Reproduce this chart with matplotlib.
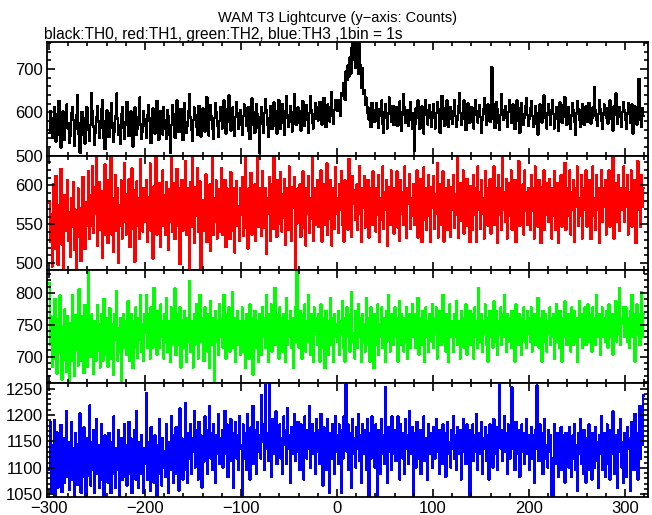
import numpy as np
import matplotlib.pyplot as plt
from matplotlib.ticker import MultipleLocator

plt.rcParams['font.family'] = ['Liberation Sans', 'DejaVu Sans']

T_START = -300  # first bin edge, 1 bin = 1 s

# counts per 1 s bin (-300 .. 319)
TH0 = [
    552, 603, 588, 541, 566, 612, 597, 533, 548, 579, 626, 571, 519, 584, 602, 559, 537, 592, 618, 563,
    574, 529, 547, 598, 611, 583, 522, 561, 593, 639, 575, 548, 507, 569, 601, 587, 546, 528, 583, 612,
    596, 558, 534, 571, 645, 603, 567, 526, 552, 588, 614, 579, 541, 563, 607, 628, 572, 539, 515, 581,
    604, 587, 543, 562, 598, 621, 574, 532, 556, 591, 643, 586, 549, 571, 528, 596, 612, 565, 538, 577,
    591, 624, 569, 545, 583, 602, 557, 521, 578, 611, 596, 548, 563, 589, 634, 572, 538, 556, 603, 585,
    568, 542, 593, 617, 581, 555, 529, 587, 609, 574, 551, 598, 626, 564, 537, 582, 603, 577, 549, 612,
    583, 561, 539, 604, 592, 548, 506, 571, 617, 589, 563, 541, 598, 627, 582, 554, 575, 608, 569, 536,
    597, 621, 578, 552, 569, 603, 641, 588, 559, 534, 582, 611, 595, 567, 548, 589, 615, 573, 544, 596,
    609, 581, 556, 598, 635, 574, 547, 583, 616, 591, 562, 539, 587, 622, 601, 568, 543, 579, 612, 588,
    563, 598, 627, 584, 551, 576, 608, 639, 582, 558, 593, 611, 574, 546, 589, 624, 597, 563, 581, 604,
    572, 548, 591, 618, 603, 569, 585, 612, 557, 538, 594, 632, 601, 571, 553, 587, 619, 596, 564, 507,
    589, 612, 574, 553, 598, 631, 606, 572, 544, 587, 615, 592, 561, 583, 623, 599, 568, 551, 604, 628,
    583, 562, 597, 619, 576, 549, 602, 637, 588, 566, 593, 614, 578, 556, 601, 642, 593, 571, 586, 611,
    597, 574, 558, 603, 626, 589, 568, 594, 617, 583, 552, 599, 638, 604, 577, 563, 596, 621, 585, 612,
    581, 603, 624, 589, 572, 607, 633, 598, 566, 591, 618, 604, 579, 613, 646, 592, 574, 605, 627, 611,
    603, 628, 617, 592, 645, 637, 668, 651, 629, 694, 674, 708, 682, 726, 689, 748, 767, 721, 773, 702,
    756, 731, 688, 765, 709, 657, 701, 642, 651, 618, 634, 599, 611, 583, 607, 566, 622, 589, 604, 578,
    597, 621, 583, 564, 608, 593, 627, 574, 552, 601, 619, 588, 563, 597, 634, 606, 578, 593, 615, 571,
    588, 612, 596, 569, 583, 625, 601, 557, 594, 642, 611, 576, 589, 604, 568, 596, 623, 583, 561, 598,
    511, 573, 609, 587, 627, 596, 562, 581, 613, 598, 551, 594, 629, 606, 572, 588, 617, 593, 566, 601,
    619, 588, 563, 598, 624, 607, 579, 553, 592, 638, 611, 584, 569, 601, 627, 594, 567, 585, 612, 596,
    574, 603, 628, 591, 566, 582, 614, 645, 598, 571, 589, 608, 627, 583, 559, 597, 621, 602, 576, 591,
    612, 586, 563, 594, 628, 603, 577, 598, 616, 589, 552, 583, 607, 632, 596, 571, 589, 618, 604, 578,
    592, 704, 619, 583, 564, 597, 623, 608, 575, 559, 594, 641, 606, 582, 597, 614, 588, 566, 601, 629,
    603, 576, 589, 618, 594, 561, 586, 627, 611, 579, 553, 598, 622, 596, 571, 587, 614, 632, 594, 568,
    584, 609, 626, 592, 567, 583, 614, 598, 571, 549, 596, 618, 603, 577, 592, 639, 611, 586, 563, 598,
    619, 594, 572, 606, 628, 597, 563, 588, 612, 584, 557, 596, 623, 601, 576, 593, 617, 635, 588, 571,
    596, 612, 587, 562, 593, 621, 604, 578, 549, 597, 626, 608, 583, 567, 604, 619, 592, 571, 588, 613,
    578, 597, 622, 603, 574, 586, 611, 592, 658, 604, 583, 569, 596, 627, 608, 581, 562, 597, 618, 594,
    587, 609, 574, 596, 627, 613, 584, 558, 592, 616, 643, 598, 573, 589, 612, 594, 567, 601, 624, 605,
    583, 561, 597, 621, 604, 576, 592, 618, 551, 588, 613, 597, 572, 594, 677, 603, 581, 566, 609, 592,
]

TH1 = [
    577, 528, 563, 496, 601, 547, 519, 612, 556, 498, 574, 538, 621, 524, 563, 489, 588, 542, 551, 607,
    529, 566, 508, 583, 547, 604, 517, 569, 492, 553, 596, 534, 571, 503, 558, 611, 539, 518, 579, 548,
    562, 618, 531, 587, 548, 625, 539, 598, 563, 645, 522, 577, 604, 543, 568, 507, 593, 551, 627, 536,
    579, 526, 607, 554, 646, 537, 583, 515, 569, 613, 542, 597, 501, 574, 548, 606, 532, 578, 629, 553,
    537, 589, 561, 608, 521, 573, 622, 544, 594, 502, 567, 605, 548, 583, 531, 634, 562, 541, 596, 572,
    553, 607, 527, 585, 559, 628, 542, 578, 506, 599, 568, 647, 537, 584, 552, 603, 521, 574, 619, 548,
    588, 536, 604, 567, 517, 595, 553, 637, 541, 584, 603, 531, 573, 621, 548, 596, 499, 568, 607, 542,
    583, 558, 631, 536, 597, 572, 491, 604, 547, 648, 579, 526, 598, 561, 622, 541, 588, 605, 493, 574,
    581, 542, 567, 614, 527, 579, 548, 601, 516, 568, 636, 537, 584, 553, 606, 532, 573, 595, 541, 622,
    536, 585, 561, 607, 521, 596, 547, 578, 531, 617, 566, 542, 597, 514, 584, 605, 548, 573, 529, 597,
    562, 611, 535, 584, 642, 546, 573, 519, 596, 567, 616, 537, 583, 552, 601, 529, 579, 641, 547, 568,
    596, 535, 618, 571, 546, 597, 512, 584, 563, 611, 529, 577, 602, 544, 639, 566, 583, 534, 607, 551,
    573, 617, 541, 589, 558, 608, 524, 579, 597, 543, 624, 565, 529, 598, 571, 611, 493, 584, 551, 596,
    567, 601, 534, 585, 618, 546, 578, 523, 597, 563, 612, 539, 584, 557, 641, 529, 596, 571, 549, 607,
    547, 591, 563, 619, 528, 584, 602, 549, 572, 628, 536, 589, 557, 607, 523, 578, 597, 544, 623, 563,
    584, 539, 601, 569, 618, 549, 591, 528, 606, 571, 597, 543, 634, 562, 585, 534, 612, 576, 594, 556,
    601, 543, 583, 624, 563, 528, 596, 571, 612, 546, 589, 557, 607, 533, 577, 597, 549, 618, 568, 583,
    541, 597, 562, 613, 527, 584, 556, 624, 544, 591, 569, 607, 522, 578, 598, 549, 619, 563, 585, 538,
    597, 569, 618, 546, 585, 529, 607, 563, 591, 549, 624, 568, 533, 597, 576, 614, 544, 583, 561, 602,
    549, 591, 568, 619, 533, 597, 562, 608, 527, 585, 623, 556, 597, 543, 578, 613, 561, 527, 598, 571,
    612, 544, 589, 563, 629, 533, 584, 602, 549, 572, 618, 528, 597, 562, 589, 543, 607, 574, 534, 598,
    568, 613, 546, 589, 562, 641, 533, 584, 603, 555, 577, 619, 538, 597, 569, 608, 548, 591, 527, 599,
    576, 543, 613, 562, 597, 527, 624, 569, 591, 544, 607, 563, 584, 532, 618, 574, 597, 548, 583, 608,
    538, 591, 569, 624, 549, 597, 574, 526, 613, 562, 597, 543, 643, 568, 591, 553, 608, 532, 584, 603,
    561, 619, 543, 589, 568, 607, 527, 597, 574, 631, 548, 584, 561, 601, 537, 619, 567, 591, 549, 597,
    584, 543, 613, 567, 597, 532, 624, 561, 591, 547, 607, 574, 526, 598, 568, 619, 543, 591, 562, 603,
    553, 608, 574, 532, 597, 561, 618, 543, 584, 603, 526, 591, 568, 613, 547, 597, 572, 629, 543, 584,
    597, 561, 619, 537, 591, 568, 607, 527, 597, 573, 624, 548, 584, 561, 613, 532, 597, 568, 589, 619,
    547, 597, 573, 607, 531, 591, 624, 561, 584, 543, 613, 568, 597, 526, 584, 619, 553, 597, 572, 607,
    537, 591, 568, 619, 547, 597, 561, 641, 532, 584, 603, 553, 573, 613, 542, 597, 568, 589, 624, 553,
    597, 572, 613, 537, 591, 568, 619, 547, 597, 561, 607, 526, 584, 631, 568, 597, 547, 613, 572, 597,
]

TH2 = [
    815, 718, 763, 684, 742, 697, 791, 727, 673, 759, 706, 796, 722, 664, 748, 695, 774, 732, 676, 764,
    717, 661, 753, 694, 796, 727, 669, 765, 711, 749, 686, 806, 721, 764, 693, 744, 674, 781, 716, 753,
    684, 842, 727, 699, 766, 716, 673, 755, 731, 694, 781, 709, 751, 683, 767, 721, 694, 791, 737, 703,
    761, 684, 732, 776, 697, 751, 716, 671, 767, 726, 803, 694, 744, 708, 761, 662, 731, 767, 714, 756,
    703, 749, 787, 721, 693, 767, 731, 682, 756, 714, 777, 736, 698, 761, 726, 797, 707, 751, 693, 767,
    737, 797, 714, 766, 731, 697, 777, 748, 714, 808, 726, 761, 703, 772, 737, 714, 782, 731, 756, 697,
    767, 724, 792, 708, 756, 736, 692, 777, 719, 761, 731, 807, 702, 767, 741, 718, 777, 683, 757, 729,
    714, 772, 736, 692, 761, 724, 818, 707, 756, 731, 683, 767, 719, 782, 736, 697, 756, 797, 724, 761,
    751, 693, 777, 731, 767, 708, 751, 682, 787, 718, 761, 736, 657, 772, 724, 756, 703, 782, 731, 751,
    761, 714, 797, 736, 697, 767, 724, 777, 708, 751, 731, 802, 714, 761, 692, 736, 772, 718, 756, 703,
    731, 777, 708, 756, 682, 767, 724, 751, 697, 782, 718, 761, 672, 736, 772, 714, 756, 731, 692, 767,
    751, 703, 777, 731, 761, 714, 797, 736, 692, 767, 724, 782, 708, 756, 741, 808, 718, 767, 731, 697,
    777, 724, 761, 708, 767, 736, 692, 792, 718, 756, 731, 772, 714, 761, 682, 751, 777, 724, 843, 756,
    714, 772, 736, 697, 767, 731, 782, 708, 756, 724, 797, 741, 703, 767, 731, 692, 777, 736, 761, 718,
    767, 731, 692, 782, 741, 714, 761, 682, 772, 724, 756, 703, 736, 792, 718, 761, 692, 767, 731, 751,
    724, 772, 703, 756, 736, 787, 714, 761, 692, 751, 777, 731, 767, 708, 756, 802, 724, 736, 697, 772,
    751, 714, 782, 731, 761, 692, 767, 724, 751, 708, 792, 736, 761, 718, 692, 777, 731, 756, 682, 767,
    718, 756, 782, 703, 751, 731, 777, 714, 761, 736, 692, 772, 724, 797, 756, 708, 751, 767, 718, 736,
    777, 731, 761, 692, 751, 787, 718, 767, 736, 708, 761, 724, 777, 697, 751, 767, 714, 736, 782, 731,
    756, 714, 767, 731, 792, 703, 751, 761, 718, 772, 736, 692, 777, 731, 756, 708, 767, 751, 724, 782,
    714, 761, 736, 777, 697, 756, 731, 772, 718, 751, 797, 724, 761, 708, 767, 736, 692, 782, 731, 756,
    751, 708, 767, 731, 787, 718, 756, 736, 697, 772, 724, 761, 714, 751, 782, 703, 756, 731, 772, 718,
    767, 736, 697, 777, 731, 756, 714, 808, 751, 724, 767, 708, 756, 736, 782, 718, 761, 692, 751, 772,
    731, 761, 714, 787, 751, 724, 772, 703, 756, 736, 777, 718, 767, 731, 797, 751, 708, 767, 724, 761,
    751, 714, 772, 731, 756, 692, 782, 736, 718, 767, 731, 761, 703, 751, 777, 724, 756, 714, 772, 736,
    761, 724, 777, 708, 751, 767, 718, 756, 736, 792, 714, 761, 731, 692, 772, 751, 724, 767, 708, 756,
    736, 777, 718, 761, 731, 767, 697, 751, 782, 724, 756, 714, 772, 736, 692, 761, 731, 787, 751, 718,
    767, 731, 756, 708, 777, 736, 718, 772, 724, 761, 692, 751, 787, 731, 767, 714, 756, 736, 777, 718,
    756, 782, 724, 767, 751, 708, 777, 736, 761, 718, 797, 751, 731, 767, 703, 756, 777, 731, 761, 724,
    772, 736, 714, 782, 756, 731, 767, 703, 761, 751, 787, 724, 767, 736, 808, 718, 761, 751, 777, 731,
    751, 777, 724, 761, 714, 772, 736, 797, 731, 767, 692, 756, 782, 736, 767, 718, 761, 802, 731, 767,
]

TH3 = [
    1097, 1186, 1052, 1143, 1084, 1191, 1046, 1118, 1167, 1063, 1132, 1089, 1181, 1054, 1113, 1157, 1072, 1126, 1208, 1083,
    1149, 1058, 1121, 1187, 1077, 1138, 1043, 1166, 1097, 1068, 1144, 1112, 1203, 1053, 1127, 1084, 1176, 1102, 1044, 1157,
    1086, 1133, 1218, 1067, 1149, 1096, 1172, 1053, 1121, 1192, 1088, 1143, 1062, 1114, 1183, 1078, 1131, 1043, 1161, 1102,
    1127, 1072, 1166, 1108, 1052, 1149, 1089, 1197, 1121, 1062, 1137, 1096, 1172, 1047, 1126, 1156, 1077, 1114, 1183, 1084,
    1143, 1067, 1121, 1187, 1088, 1156, 1052, 1132, 1101, 1172, 1078, 1208, 1113, 1062, 1149, 1089, 1162, 1119, 1052, 1137,
    1107, 1242, 1078, 1149, 1121, 1057, 1177, 1096, 1138, 1072, 1161, 1113, 1044, 1143, 1089, 1192, 1126, 1067, 1156, 1101,
    1132, 1083, 1182, 1113, 1053, 1149, 1096, 1198, 1126, 1072, 1161, 1107, 1177, 1088, 1143, 1057, 1212, 1121, 1156, 1078,
    1149, 1096, 1222, 1126, 1072, 1166, 1118, 1182, 1088, 1156, 1131, 1207, 1101, 1172, 1143, 1078, 1187, 1118, 1161, 1063,
    1156, 1112, 1197, 1137, 1172, 1088, 1149, 1217, 1118, 1166, 1096, 1182, 1143, 1072, 1161, 1126, 1202, 1107, 1156, 1137,
    1172, 1101, 1143, 1208, 1126, 1182, 1083, 1156, 1131, 1192, 1113, 1166, 1062, 1149, 1187, 1118, 1161, 1096, 1197, 1137,
    1143, 1046, 1182, 1118, 1166, 1096, 1202, 1137, 1156, 1078, 1177, 1126, 1217, 1107, 1149, 1172, 1088, 1187, 1131, 1161,
    1118, 1237, 1149, 1182, 1096, 1256, 1137, 1166, 1113, 1258, 1143, 1083, 1192, 1126, 1172, 1149, 1207, 1107, 1161, 1131,
    1182, 1118, 1156, 1088, 1197, 1143, 1172, 1107, 1212, 1137, 1161, 1072, 1177, 1126, 1149, 1202, 1113, 1166, 1131, 1187,
    1143, 1096, 1182, 1131, 1161, 1078, 1197, 1149, 1118, 1172, 1137, 1217, 1101, 1156, 1182, 1126, 1166, 1088, 1192, 1143,
    1131, 1172, 1107, 1202, 1149, 1067, 1177, 1126, 1161, 1096, 1192, 1137, 1053, 1166, 1118, 1182, 1149, 1088, 1197, 1131,
    1161, 1107, 1182, 1137, 1052, 1172, 1118, 1197, 1149, 1258, 1131, 1182, 1096, 1166, 1143, 1062, 1192, 1126, 1156, 1101,
    1177, 1137, 1202, 1113, 1161, 1072, 1182, 1143, 1126, 1172, 1096, 1192, 1149, 1047, 1166, 1118, 1197, 1137, 1156, 1101,
    1182, 1131, 1044, 1172, 1143, 1088, 1192, 1126, 1161, 1107, 1252, 1149, 1072, 1177, 1131, 1166, 1096, 1197, 1143, 1126,
    1172, 1113, 1156, 1197, 1131, 1078, 1182, 1149, 1118, 1166, 1088, 1192, 1137, 1161, 1107, 1207, 1143, 1126, 1177, 1046,
    1137, 1166, 1101, 1187, 1149, 1118, 1172, 1088, 1161, 1131, 1197, 1113, 1156, 1143, 1078, 1182, 1126, 1166, 1137, 1101,
    1177, 1143, 1118, 1192, 1131, 1161, 1088, 1172, 1149, 1107, 1182, 1137, 1166, 1083, 1156, 1187, 1126, 1149, 1101, 1172,
    1137, 1197, 1118, 1161, 1096, 1177, 1143, 1126, 1172, 1078, 1156, 1192, 1131, 1166, 1107, 1182, 1149, 1118, 1046, 1172,
    1143, 1182, 1113, 1161, 1131, 1202, 1096, 1166, 1149, 1126, 1187, 1088, 1156, 1137, 1177, 1113, 1161, 1143, 1078, 1182,
    1131, 1166, 1101, 1192, 1149, 1126, 1177, 1096, 1161, 1257, 1137, 1172, 1113, 1156, 1197, 1131, 1166, 1088, 1182, 1143,
    1118, 1172, 1252, 1137, 1161, 1096, 1187, 1143, 1126, 1172, 1083, 1156, 1182, 1131, 1166, 1107, 1149, 1192, 1126, 1161,
    1096, 1143, 1177, 1118, 1161, 1072, 1172, 1137, 1256, 1149, 1113, 1182, 1131, 1166, 1088, 1156, 1192, 1118, 1143, 1101,
    1172, 1131, 1161, 1043, 1118, 1041, 1182, 1143, 1107, 1166, 1083, 1149, 1126, 1177, 1096, 1161, 1137, 1072, 1166, 1118,
    1149, 1101, 1177, 1131, 1083, 1161, 1118, 1182, 1096, 1143, 1057, 1166, 1126, 1192, 1107, 1149, 1088, 1172, 1131, 1072,
    1156, 1118, 1182, 1096, 1143, 1078, 1166, 1131, 1101, 1177, 1113, 1149, 1062, 1161, 1126, 1197, 1096, 1143, 1166, 1083,
    1137, 1182, 1107, 1156, 1078, 1172, 1126, 1207, 1143, 1088, 1161, 1118, 1062, 1172, 1131, 1192, 1101, 1149, 1072, 1166,
    1126, 1083, 1177, 1137, 1156, 1057, 1187, 1113, 1149, 1096, 1202, 1131, 1166, 1078, 1161, 1217, 1118, 1182, 1143, 1237,
]

SERIES = [TH0, TH1, TH2, TH3]
COLORS = ['black', '#ff0000', '#00ff00', '#0000ff']
YLIMS = [(500, 762), (492, 638), (658, 837), (1045, 1260)]
YMAJOR = [100, 50, 50, 50]
YMINOR = [20, 10, 10, 10]

fig = plt.figure(figsize=(6.52, 5.15), dpi=100)
left, right = 47 / 652, 648 / 652
top_px, bot_px = 42, 497
h = (bot_px - top_px) / 4 / 515

axes = []
for i in range(4):
    y0 = (515 - top_px) / 515 - (i + 1) * h
    ax = fig.add_axes([left, y0, right - left, h])
    axes.append(ax)

for i, ax in enumerate(axes):
    vals = np.array(SERIES[i])
    edges = T_START + np.arange(len(vals) + 1)
    ax.stairs(vals, edges, color=COLORS[i], lw=1.0, baseline=None, antialiased=False)
    ax.set_xlim(-302, 324)
    ax.set_ylim(*YLIMS[i])
    ax.xaxis.set_major_locator(MultipleLocator(100))
    ax.xaxis.set_minor_locator(MultipleLocator(20))
    ax.yaxis.set_major_locator(MultipleLocator(YMAJOR[i]))
    ax.yaxis.set_minor_locator(MultipleLocator(YMINOR[i]))
    ax.tick_params(which='both', direction='in', top=True, right=True,
                   labelsize=12, width=1.2, pad=3)
    ax.tick_params(which='major', length=6)
    ax.tick_params(which='minor', length=3)
    for sp in ax.spines.values():
        sp.set_linewidth(1.3)
    if i < 3:
        ax.tick_params(labelbottom=False)

fig.text(337 / 652, 1 - 18 / 515, 'WAM T3 Lightcurve (y\u2212axis: Counts)',
         ha='center', va='center', fontsize=10.5)
fig.text(44 / 652, 1 - 35 / 515, 'black:TH0, red:TH1, green:TH2, blue:TH3 ,1bin = 1s',
         ha='left', va='center', fontsize=11.2)

fig.savefig('out.png', dpi=100)
